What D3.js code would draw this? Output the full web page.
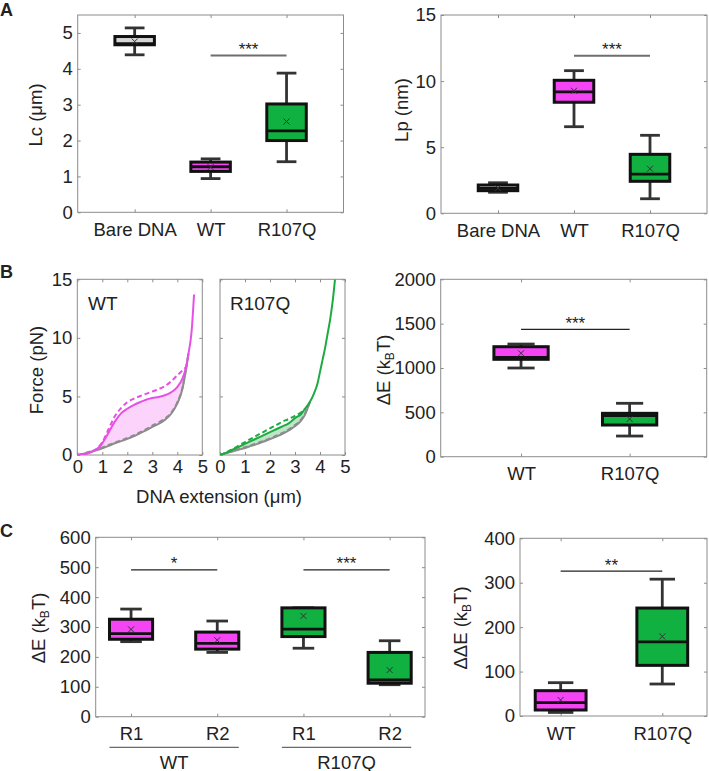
<!DOCTYPE html>
<html>
<head>
<meta charset="utf-8">
<script src="https://cdn.jsdelivr.net/npm/d3@7"></script>
<style>
body { margin: 0; background: #fff; }
text { font-family: "Liberation Sans", Arial, sans-serif; fill: #222; }
</style>
</head>
<body>
<script>
var W = 709, H = 771;

// box stats: [lower whisker, q1, median, q3, upper whisker, mean]
var lcCats = ["Bare DNA", "WT", "R107Q"];
var lcBoxes = [[4.39, 4.67, 4.70, 4.90, 5.14, 4.76], [0.94, 1.14, 1.27, 1.40, 1.49, 1.26], [1.41, 2.00, 2.27, 3.02, 3.88, 2.53]];
var lcSig = [[2, 3, 4.37, "***"]];

var lpCats = ["Bare DNA", "WT", "R107Q"];
var lpBoxes = [[1.59, 1.71, 1.88, 2.14, 2.31, 1.90], [6.55, 8.40, 9.18, 10.06, 10.79, 9.27], [1.10, 2.42, 2.97, 4.46, 5.90, 3.37]];
var lpSig = [[2, 3, 11.92, "***"]];

// force-extension curves (um, pN)
var wtExt = [0, 0.25, 0.5, 0.75, 1, 1.25, 1.5, 1.75, 2, 2.25, 2.5, 2.75, 3, 3.25, 3.5, 3.75, 4, 4.2, 4.35, 4.45, 4.57, 4.67];
var wtForce = [0, 0.05, 0.2, 0.45, 1.0, 1.9, 2.85, 3.55, 3.95, 4.25, 4.5, 4.72, 4.86, 4.96, 5.1, 5.35, 5.8, 6.5, 7.5, 8.7, 10.5, 13.7];
var wtForceDash = [0, 0.05, 0.2, 0.5, 1.1, 2.2, 3.3, 4.0, 4.5, 4.8, 5.02, 5.22, 5.42, 5.62, 5.88, 6.28, 6.8, 7.2, 7.5];
var wtBareForce = [0, 0.1, 0.25, 0.4, 0.58, 0.78, 1.0, 1.18, 1.38, 1.6, 1.85, 2.1, 2.4, 2.65, 3.0, 3.5, 4.4, 5.6, 7.3, 8.7];
var wtBareForceDash = [0, 0.12, 0.3, 0.45, 0.65, 0.85, 1.05, 1.25, 1.45, 1.68, 1.92, 2.2, 2.5, 2.78, 3.1, 3.6, 4.5, 5.7, 7.4, 8.7];

var rqExt = [0, 0.25, 0.5, 0.75, 1, 1.25, 1.5, 1.75, 2, 2.25, 2.5, 2.75, 3, 3.25, 3.4, 3.6, 3.75, 3.9, 4, 4.1, 4.2, 4.3, 4.4, 4.5, 4.6];
var rqForce = [0, 0.2, 0.45, 0.7, 0.95, 1.2, 1.45, 1.7, 1.95, 2.2, 2.45, 2.7, 3.15, 3.5, 3.95, 4.55, 5.2, 6.1, 7.1, 8.1, 9.1, 10.3, 11.5, 13.0, 15.0];
var rqForceDash = [0, 0.22, 0.5, 0.8, 1.1, 1.4, 1.7, 1.98, 2.28, 2.55, 2.85, 3.08, 3.35, 3.65, 3.95];
var rqBareForce = [0, 0.15, 0.3, 0.45, 0.6, 0.78, 0.95, 1.15, 1.35, 1.57, 1.8, 2.1, 2.45, 2.95, 3.45, 4.55];
var rqBareForceDash = [0, 0.17, 0.33, 0.5, 0.66, 0.84, 1.02, 1.22, 1.42, 1.64, 1.88, 2.18, 2.55, 3.05, 3.55, 4.55];

var dECats = ["WT", "R107Q"];
var dEBoxes = [[1000, 1098, 1120, 1240, 1270, 1166], [233, 357, 462, 489, 602, 425]];
var dESig = [[1, 2, 1436, "***"]];

var rCats = ["R1", "R2", "R1", "R2"];
var rGroups = ["WT", "R107Q"];
var rBoxes = [[251, 259, 278, 326, 360, 292], [215, 226, 245, 283, 320, 256], [229, 268, 293, 364, 364, 337], [107, 112, 123, 215, 254, 156]];
var rSig = [[1, 2, 491, "*"], [3, 4, 491, "***"]];

var ddECats = ["WT", "R107Q"];
var ddEBoxes = [[8, 13.5, 30, 57, 75, 36], [72, 114, 167, 243, 308, 179]];
var ddESig = [[1, 2, 326, "**"]];

var colMag = "#f444f4", colGreen = "#10b140", colBare = "#d6d6d6";
var fontFam = "'Liberation Sans', Arial, sans-serif";
var fs = 18.5;

var svg = d3.select("body").append("svg")
    .attr("width", W)
    .attr("height", H);

function makePanel(r, xdom, ydom) {
    return {
        r: r,
        x: d3.scaleLinear().domain(xdom).range([r.l, r.r]),
        y: d3.scaleLinear().domain(ydom).range([r.b, r.t])
    };
}

function drawAxes(p, xt, xfmt, yt, yfmt, xpad) {
    var g = svg.append("g");
    var axes = [
        [d3.axisBottom(p.x).tickValues(xt).tickFormat(xfmt), "translate(0," + p.r.b + ")", xpad],
        [d3.axisTop(p.x).tickValues(xt).tickFormat(""), "translate(0," + p.r.t + ")", 0],
        [d3.axisLeft(p.y).tickValues(yt).tickFormat(yfmt), "translate(" + p.r.l + ",0)", 5],
        [d3.axisRight(p.y).tickValues(yt).tickFormat(""), "translate(" + p.r.r + ",0)", 0]
    ];
    axes.forEach(function (a) {
        var ax = g.append("g")
            .attr("transform", a[1])
            .call(a[0].tickSizeInner(-3).tickSizeOuter(0).tickPadding(a[2]));
        ax.select(".domain").remove();
        ax.attr("font-size", fs).attr("font-family", fontFam);
        ax.selectAll("line").attr("stroke", "#8c8c8c");
        ax.selectAll("text").attr("fill", "#222");
    });
    g.append("rect")
        .attr("x", p.r.l).attr("y", p.r.t)
        .attr("width", p.r.r - p.r.l).attr("height", p.r.b - p.r.t)
        .attr("fill", "none").attr("stroke", "#8c8c8c").attr("stroke-width", 1);
}

function drawBoxes(p, stats, colors, bw) {
    var g = svg.append("g").selectAll("g").data(stats).join("g");
    g.each(function (s, i) {
        var sel = d3.select(this);
        var cx = p.x(i + 1), hw = p.x(i + 1 + bw / 2) - cx;
        var wl = function (y1, y2) {
            sel.append("line").attr("x1", cx).attr("x2", cx).attr("y1", p.y(y1)).attr("y2", p.y(y2))
                .attr("stroke", "#333").attr("stroke-width", 2.8);
        };
        var cap = function (v) {
            sel.append("line").attr("x1", cx - hw / 2).attr("x2", cx + hw / 2).attr("y1", p.y(v)).attr("y2", p.y(v))
                .attr("stroke", "#333").attr("stroke-width", 2.8);
        };
        wl(s[4], s[3]); wl(s[1], s[0]);
        cap(s[4]); cap(s[0]);
        sel.append("rect")
            .attr("x", cx - hw).attr("width", 2 * hw)
            .attr("y", p.y(s[3])).attr("height", p.y(s[1]) - p.y(s[3]))
            .attr("fill", colors[i]).attr("stroke", "#111").attr("stroke-width", 3);
        sel.append("line").attr("x1", cx - hw).attr("x2", cx + hw).attr("y1", p.y(s[2])).attr("y2", p.y(s[2]))
            .attr("stroke", "#111").attr("stroke-width", 2.8);
        var my = p.y(s[5]), m = 3;
        sel.append("path")
            .attr("d", "M" + (cx - m) + "," + (my - m) + "L" + (cx + m) + "," + (my + m) +
                "M" + (cx - m) + "," + (my + m) + "L" + (cx + m) + "," + (my - m))
            .attr("stroke", "#333").attr("stroke-width", 1);
    });
}

function drawSig(p, sig, color, lw) {
    sig.forEach(function (s) {
        var yy = p.y(s[2]);
        svg.append("line")
            .attr("x1", p.x(s[0])).attr("x2", p.x(s[1]))
            .attr("y1", yy).attr("y2", yy)
            .attr("stroke", color).attr("stroke-width", lw);
        svg.append("text")
            .attr("x", (p.x(s[0]) + p.x(s[1])) / 2)
            .attr("y", yy - 0.5)
            .attr("text-anchor", "middle")
            .attr("font-size", 17)
            .text(s[3]);
    });
}

function yLabel(x, y, parts) {
    var t = svg.append("text")
        .attr("transform", "translate(" + x + "," + y + ") rotate(-90)")
        .attr("text-anchor", "middle")
        .attr("font-size", fs);
    parts.forEach(function (pt) {
        var ts = t.append("tspan").text(pt[0]);
        if (pt[1] === "sub") ts.attr("font-size", 12).attr("dy", 4);
        if (pt[1] === "back") ts.attr("dy", -4);
    });
}

function plainText(x, y, str, size, anchor, weight) {
    svg.append("text")
        .attr("x", x).attr("y", y)
        .attr("font-size", size)
        .attr("text-anchor", anchor || "start")
        .attr("font-weight", weight || "normal")
        .text(str);
}

// ---------- A ----------
var pLc = makePanel({ l: 77.7, t: 15, r: 343.5, b: 212.3 }, [0.25, 3.75], [0, 5.5]);
drawAxes(pLc, [1, 2, 3], function (d) { return lcCats[d - 1]; }, [0, 1, 2, 3, 4, 5], d3.format("d"), 10.5);
drawBoxes(pLc, lcBoxes, [colBare, colMag, colGreen], 0.52);
drawSig(pLc, lcSig, "#6e6e6e", 2);
yLabel(42, 115, [["Lc (μm)"]]);

var pLp = makePanel({ l: 441, t: 15, r: 707, b: 213.3 }, [0.25, 3.75], [0, 15]);
drawAxes(pLp, [1, 2, 3], function (d) { return lpCats[d - 1]; }, [0, 5, 10, 15], d3.format("d"), 10.5);
drawBoxes(pLp, lpBoxes, [colBare, colMag, colGreen], 0.52);
drawSig(pLp, lpSig, "#6e6e6e", 2);
yLabel(408, 110, [["Lp (nm)"]]);

// ---------- B ----------
function drawForce(p, ext, solid, dash, bare, bareDash, nFill, lineCol, fillCol, id) {
    svg.append("clipPath").attr("id", id)
        .append("rect").attr("x", p.r.l).attr("y", p.r.t)
        .attr("width", p.r.r - p.r.l).attr("height", p.r.b - p.r.t);
    var g = svg.append("g").attr("clip-path", "url(#" + id + ")");
    var pts = function (arr) { return arr.map(function (v, i) { return [ext[i], v]; }); };
    var line = d3.line().x(function (d) { return p.x(d[0]); }).y(function (d) { return p.y(d[1]); })
        .curve(d3.curveMonotoneX);
    var fillIdx = d3.range(nFill);
    g.append("path")
        .datum(fillIdx)
        .attr("d", d3.area()
            .x(function (i) { return p.x(ext[i]); })
            .y0(function (i) { return p.y(bare[i]); })
            .y1(function (i) { return p.y(solid[i]); })
            .curve(d3.curveMonotoneX))
        .attr("fill", fillCol);
    g.append("path").datum(pts(bareDash)).attr("d", line)
        .attr("fill", "none").attr("stroke", "#8c8c8c").attr("stroke-width", 2).attr("stroke-dasharray", "5,3");
    g.append("path").datum(pts(bare)).attr("d", line)
        .attr("fill", "none").attr("stroke", "#8c8c8c").attr("stroke-width", 2);
    g.append("path").datum(pts(dash)).attr("d", line)
        .attr("fill", "none").attr("stroke", lineCol).attr("stroke-width", 2).attr("stroke-dasharray", "5,3");
    g.append("path").datum(pts(solid)).attr("d", line)
        .attr("fill", "none").attr("stroke", lineCol).attr("stroke-width", 2);
}

var fTicksX = [0, 1, 2, 3, 4, 5], fTicksY = [0, 5, 10, 15];
var pFwt = makePanel({ l: 77.3, t: 279.3, r: 202.3, b: 455 }, [0, 5], [0, 15]);
drawAxes(pFwt, fTicksX, d3.format("d"), fTicksY, d3.format("d"), 5);
drawForce(pFwt, wtExt, wtForce, wtForceDash, wtBareForce, wtBareForceDash, 20, "#e650e6", "#fbd3fb", "clipWt");
plainText(88, 310, "WT", 19);

var pFrq = makePanel({ l: 220, t: 279.3, r: 345, b: 455 }, [0, 5], [0, 15]);
drawAxes(pFrq, fTicksX, d3.format("d"), fTicksY, "", 5);
drawForce(pFrq, rqExt, rqForce, rqForceDash, rqBareForce, rqBareForceDash, 16, "#1daa42", "#bde6c8", "clipRq");
plainText(230, 310, "R107Q", 19);

yLabel(43, 370, [["Force (pN)"]]);
plainText(219, 503, "DNA extension (μm)", fs, "middle");

var pdE = makePanel({ l: 440.7, t: 279.3, r: 706.7, b: 456.7 }, [0.26, 2.71], [0, 2000]);
drawAxes(pdE, [1, 2], function (d) { return dECats[d - 1]; }, [0, 500, 1000, 1500, 2000], d3.format("d"), 10.5);
drawBoxes(pdE, dEBoxes, [colMag, colGreen], 0.5);
drawSig(pdE, dESig, "#222", 1.3);
yLabel(390, 370, [["ΔE (k"], ["B", "sub"], ["T)", "back"]]);

// ---------- C ----------
var pR = makePanel({ l: 95.7, t: 537.3, r: 425, b: 716.7 }, [0.59, 4.41], [0, 600]);
drawAxes(pR, [1, 2, 3, 4], function (d) { return rCats[d - 1]; }, d3.range(0, 601, 100), d3.format("d"), 10.5);
drawBoxes(pR, rBoxes, [colMag, colMag, colGreen, colGreen], 0.5);
drawSig(pR, rSig, "#222", 1.3);
yLabel(45, 628, [["ΔE (k"], ["B", "sub"], ["T)", "back"]]);

rGroups.forEach(function (gname, k) {
    var a = 2 * k + 1, b = 2 * k + 2;
    svg.append("line")
        .attr("x1", pR.x(a - 0.25)).attr("x2", pR.x(b + 0.25))
        .attr("y1", 747.3).attr("y2", 747.3)
        .attr("stroke", "#444").attr("stroke-width", 1);
    plainText(pR.x((a + b) / 2), 768.5, gname, fs, "middle");
});

var pdd = makePanel({ l: 520, t: 538.3, r: 707, b: 716 }, [0.6, 2.44], [0, 400]);
drawAxes(pdd, [1, 2], function (d) { return ddECats[d - 1]; }, d3.range(0, 401, 100), d3.format("d"), 10.5);
drawBoxes(pdd, ddEBoxes, [colMag, colGreen], 0.5);
drawSig(pdd, ddESig, "#222", 1.3);
yLabel(467, 628, [["ΔΔE (k"], ["B", "sub"], ["T)", "back"]]);

// panel letters
plainText(0, 16, "A", 18, "start", "bold");
plainText(0, 278, "B", 18, "start", "bold");
plainText(0, 536.5, "C", 18, "start", "bold");
</script>
</body>
</html>
